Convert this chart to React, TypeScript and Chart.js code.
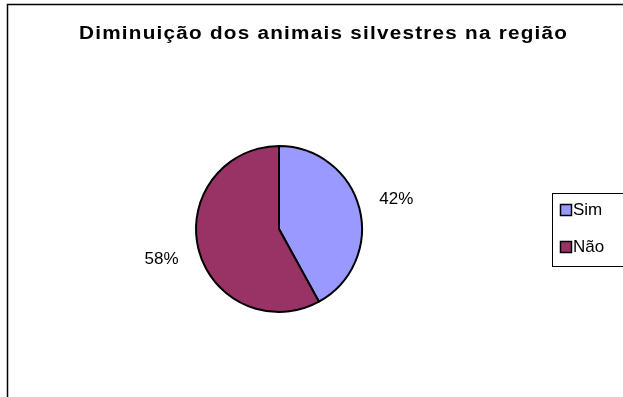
import React, { useEffect, useRef } from "react";
import { Chart, registerables } from "chart.js";
Chart.register(...registerables);

const TITLE = "Diminuição dos animais silvestres na região";
const categories = ["Sim", "Não"];
const values = [42, 58];
const colors = ["#9999FF", "#993366"];

const FONT = "'Liberation Sans', Arial, sans-serif";

const overlay = {
  id: "overlay",
  afterDraw(chart: any) {
    const ctx: CanvasRenderingContext2D = chart.ctx;
    ctx.save();
    // outer frame (extends beyond the visible area)
    ctx.strokeStyle = "#000";
    ctx.lineWidth = 1.5;
    ctx.beginPath();
    ctx.moveTo(7.5, 800);
    ctx.lineTo(7.5, 4.5);
    ctx.lineTo(800, 4.5);
    ctx.stroke();

    // title (slightly widened glyphs, like the original rendering)
    ctx.fillStyle = "#000";
    ctx.font = `bold 18px ${FONT}`;
    ctx.textAlign = "left";
    ctx.textBaseline = "alphabetic";
    const sx = 1.15;
    const natural = ctx.measureText(TITLE).width * sx;
    const target = 488;
    const ls = Math.max(0, (target - natural) / (TITLE.length - 1) / sx);
    ctx.save();
    ctx.translate(79, 39);
    ctx.scale(sx, 1);
    (ctx as any).letterSpacing = ls + "px";
    ctx.fillText(TITLE, 0, 0);
    (ctx as any).letterSpacing = "0px";
    ctx.restore();

    // percentage labels
    const meta = chart.getDatasetMeta(0);
    const total = values.reduce((a, b) => a + b, 0);
    ctx.font = `17px ${FONT}`;
    ctx.textAlign = "center";
    ctx.textBaseline = "middle";
    meta.data.forEach((arc: any, i: number) => {
      const p = arc.getProps(["x", "y", "startAngle", "endAngle", "outerRadius"], true);
      const mid = (p.startAngle + p.endAngle) / 2;
      const d = p.outerRadius * 1.46;
      ctx.fillText(
        Math.round((values[i] / total) * 100) + "%",
        p.x + Math.cos(mid) * d,
        p.y + Math.sin(mid) * d
      );
    });

    // legend
    ctx.lineWidth = 1;
    ctx.strokeStyle = "#000";
    ctx.strokeRect(552.5, 193.5, 120, 73);
    ctx.textAlign = "left";
    ctx.font = `17px ${FONT}`;
    categories.forEach((c, i) => {
      const cy = 210 + i * 37;
      ctx.fillStyle = colors[i];
      ctx.fillRect(560.5, cy - 5.5, 11, 11);
      ctx.lineWidth = 1.5;
      ctx.strokeRect(560.5, cy - 5.5, 11, 11);
      ctx.fillStyle = "#000";
      ctx.fillText(c, 573, cy);
    });
    ctx.restore();
  },
};

export default function App() {
  const ref = useRef<HTMLCanvasElement>(null);
  useEffect(() => {
    if (!ref.current) return;
    const chart = new Chart(ref.current, {
      type: "pie",
      data: {
        labels: categories,
        datasets: [
          {
            data: values,
            backgroundColor: colors,
            borderColor: "#000",
            borderWidth: 2,
            radius: 83,
          } as any,
        ],
      },
      options: {
        responsive: false,
        animation: false,
        devicePixelRatio: 1,
        layout: { padding: { left: 195, top: 145, right: 260, bottom: 84 } },
        plugins: {
          legend: { display: false },
          tooltip: { enabled: false },
          title: { display: false },
        },
      },
      plugins: [overlay],
    });
    return () => chart.destroy();
  }, []);
  return (
    <canvas
      ref={ref}
      width={623}
      height={397}
      style={{ position: "fixed", left: 0, top: 0, width: 623, height: 397, display: "block", background: "#fff" }}
    />
  );
}
